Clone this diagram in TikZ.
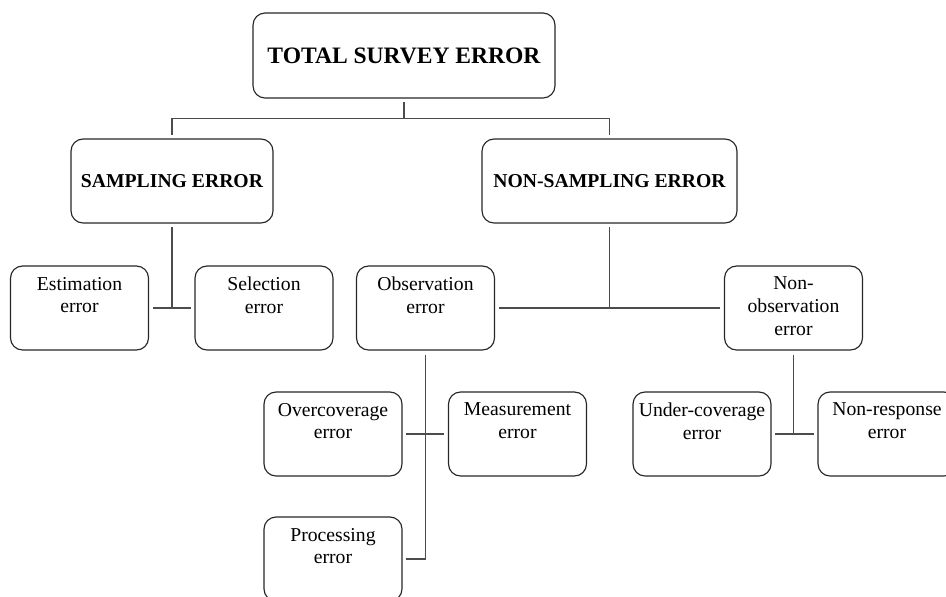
\documentclass[tikz,border=0pt]{standalone}
\usepackage{fontspec}
\setmainfont{Liberation Serif}
\newcommand{\errtext}[1]{\parbox[c][1.24cm][t]{2.7cm}{\centering #1}}

\begin{document}
\begin{tikzpicture}[x=0.02cm, y=-0.02cm,
    box/.style={draw=black!85, line width=0.65pt, rounded corners=0.24cm, inner sep=0pt, outer sep=0.09cm},
    rootbox/.style={box, minimum width=6.04cm, minimum height=1.7cm, font=\fontsize{13.4}{16}\selectfont\bfseries},
    midbox/.style={box, minimum height=1.68cm, font=\fontsize{11.2}{13}\selectfont\bfseries},
    leafbox/.style={box, minimum width=2.76cm, minimum height=1.68cm, font=\fontsize{11.2}{13}\selectfont},
    link/.style={draw=black!70, line width=0.65pt}]
      \path[use as bounding box, clip] (0,0) rectangle (946,596);

      \node[rootbox] (total) at (404,55.5) {TOTAL SURVEY ERROR};
      \node[midbox, minimum width=4.04cm] (samp) at (172,181) {SAMPLING ERROR};
      \node[midbox, minimum width=5.1cm] (nonsamp) at (609.5,181) {NON-SAMPLING ERROR};

      \node[leafbox] (est) at (79.5,308) {\errtext{Estimation\\error}};
      \node[leafbox] (sel) at (264,308) {\errtext{Selection\\error}};
      \node[leafbox] (obs) at (425.5,308) {\errtext{Observation\\error}};
      \node[leafbox] (nonobs) at (793.5,308) {\errtext{Non-\\observation\\error}};

      \node[leafbox] (over) at (333,434) {\errtext{Overcoverage\\error}};
      \node[leafbox] (meas) at (517.5,434) {\errtext{Measurement\\error}};
      \node[leafbox] (under) at (702,434) {\errtext{Under-coverage\\error}};
      \node[leafbox] (nonresp) at (887,434) {\errtext{Non-response\\error}};
      \node[leafbox] (proc) at (333,559) {\errtext{Processing\\error}};

      \draw[link] (total.south) -- ++(0,16) coordinate (topbar);
      \draw[link] (samp.north) |- (topbar) -| (nonsamp.north);

      \draw[link] (samp.south) -- (samp.south |- est.east);
      \draw[link] (est.east) -- (sel.west);

      \draw[link] (nonsamp.south) -- (nonsamp.south |- obs.east);
      \draw[link] (obs.east) -- (nonobs.west);

      \draw[link] (obs.south) |- (proc.east);
      \draw[link] (over.east) -- (meas.west);

      \draw[link] (nonobs.south) -- (nonobs.south |- under.east);
      \draw[link] (under.east) -- (nonresp.west);
    \end{tikzpicture}
\end{document}
